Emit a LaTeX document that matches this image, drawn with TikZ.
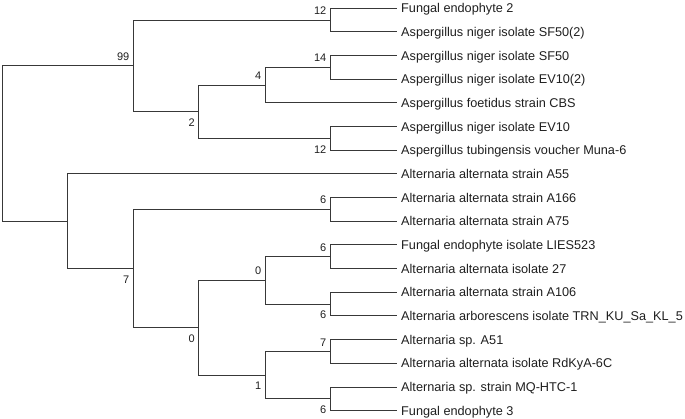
\documentclass[tikz,border=0pt]{standalone}
\usepackage{fontspec}
\setmainfont{Liberation Sans}
\usetikzlibrary{calc}
\begin{document}
\begin{tikzpicture}[x=1pt,y=-1pt,
  branch/.style={draw=black!78, line width=1pt},
  leaf/.style={anchor=west, inner xsep=4pt, inner ysep=0pt, text height=9pt, text depth=0pt, font=\fontsize{12.7}{14}\selectfont, text=black!88},
  supa/.style={anchor=south east, inner sep=0pt, text height=7.9pt, text depth=0pt, font=\fontsize{11}{13}\selectfont, text=black!88},
  supb/.style={anchor=north east, inner sep=0pt, text height=7.9pt, text depth=0pt, font=\fontsize{11}{13}\selectfont, text=black!88}]
\useasboundingbox (0,0) rectangle (685,419);
% leaves
\node[leaf] (l0) at (397,8.3) {Fungal endophyte 2};
\node[leaf] (l1) at (397,32.0) {Aspergillus niger isolate SF50(2)};
\node[leaf] (l2) at (397,55.6) {Aspergillus niger isolate SF50};
\node[leaf] (l3) at (397,79.3) {Aspergillus niger isolate EV10(2)};
\node[leaf] (l4) at (397,103.0) {Aspergillus foetidus strain CBS};
\node[leaf] (l5) at (397,126.7) {Aspergillus niger isolate EV10};
\node[leaf] (l6) at (397,150.3) {Aspergillus tubingensis voucher Muna-6};
\node[leaf] (l7) at (397,174.0) {Alternaria alternata strain A55};
\node[leaf] (l8) at (397,197.7) {Alternaria alternata strain A166};
\node[leaf] (l9) at (397,221.3) {Alternaria alternata strain A75};
\node[leaf] (l10) at (397,245.0) {Fungal endophyte isolate LIES523};
\node[leaf] (l11) at (397,268.7) {Alternaria alternata isolate 27};
\node[leaf] (l12) at (397,292.3) {Alternaria alternata strain A106};
\node[leaf] (l13) at (397,316.0) {Alternaria arborescens isolate TRN\_KU\_Sa\_KL\_5};
\node[leaf] (l14) at (397,339.7) {Alternaria sp. A51};
\node[leaf] (l15) at (397,363.4) {Alternaria alternata isolate RdKyA-6C};
\node[leaf] (l16) at (397,387.0) {Alternaria sp. strain MQ-HTC-1};
\node[leaf] (l17) at (397,410.7) {Fungal endophyte 3};
% internal nodes
\coordinate (root) at (2.5,143.7);
\coordinate (a99) at (133,66);
\coordinate (b) at (67,221.35);
\coordinate (c12a) at (330,20.15);
\coordinate (d2) at (198.5,111.9);
\coordinate (e4) at (265,85.2);
\coordinate (f14) at (330,67.45);
\coordinate (g12b) at (330,138.5);
\coordinate (h7) at (133,268.7);
\coordinate (i6) at (330,209.5);
\coordinate (j0) at (198.5,327.85);
\coordinate (k0) at (265,280.5);
\coordinate (m6a) at (330,256.85);
\coordinate (n6b) at (330,304.15);
\coordinate (p1) at (265,375.2);
\coordinate (q7) at (330,351.55);
\coordinate (r6) at (330,398.85);
% branches
\draw[branch] (root) |- (a99);
\draw[branch] (root) |- (b);
\draw[branch] (a99) |- (c12a);
\draw[branch] (a99) |- (d2);
\draw[branch] (c12a) |- (l0.west);
\draw[branch] (c12a) |- (l1.west);
\draw[branch] (d2) |- (e4);
\draw[branch] (d2) |- (g12b);
\draw[branch] (e4) |- (f14);
\draw[branch] (e4) |- (l4.west);
\draw[branch] (f14) |- (l2.west);
\draw[branch] (f14) |- (l3.west);
\draw[branch] (g12b) |- (l5.west);
\draw[branch] (g12b) |- (l6.west);
\draw[branch] (b) |- (l7.west);
\draw[branch] (b) |- (h7);
\draw[branch] (h7) |- (i6);
\draw[branch] (h7) |- (j0);
\draw[branch] (i6) |- (l8.west);
\draw[branch] (i6) |- (l9.west);
\draw[branch] (j0) |- (k0);
\draw[branch] (j0) |- (p1);
\draw[branch] (k0) |- (m6a);
\draw[branch] (k0) |- (n6b);
\draw[branch] (m6a) |- (l10.west);
\draw[branch] (m6a) |- (l11.west);
\draw[branch] (n6b) |- (l12.west);
\draw[branch] (n6b) |- (l13.west);
\draw[branch] (p1) |- (q7);
\draw[branch] (p1) |- (r6);
\draw[branch] (q7) |- (l14.west);
\draw[branch] (q7) |- (l15.west);
\draw[branch] (r6) |- (l16.west);
\draw[branch] (r6) |- (l17.west);
% support values
\node[supa] (t99) at ($(a99)+(-3.5,-5.3)$) {99};
\node[supa] (t12a) at ($(c12a)+(-3.5,-5.3)$) {12};
\node[supb] (t2) at ($(d2)+(-3.5,6.5)$) {2};
\node[supa] (t4) at ($(e4)+(-3.5,-5.3)$) {4};
\node[supa] (t14) at ($(f14)+(-3.5,-5.3)$) {14};
\node[supb] (t12b) at ($(g12b)+(-3.5,6.5)$) {12};
\node[supa] (t6a) at ($(i6)+(-3.5,-5.3)$) {6};
\node[supb] (t7) at ($(h7)+(-3.5,6.5)$) {7};
\node[supb] (t0a) at ($(j0)+(-3.5,6.5)$) {0};
\node[supa] (t0b) at ($(k0)+(-3.5,-5.3)$) {0};
\node[supa] (t6b) at ($(m6a)+(-3.5,-5.3)$) {6};
\node[supb] (t6c) at ($(n6b)+(-3.5,6.5)$) {6};
\node[supb] (t1) at ($(p1)+(-3.5,6.5)$) {1};
\node[supa] (t7b) at ($(q7)+(-3.5,-5.3)$) {7};
\node[supb] (t6d) at ($(r6)+(-3.5,6.5)$) {6};
\end{tikzpicture}
\end{document}
